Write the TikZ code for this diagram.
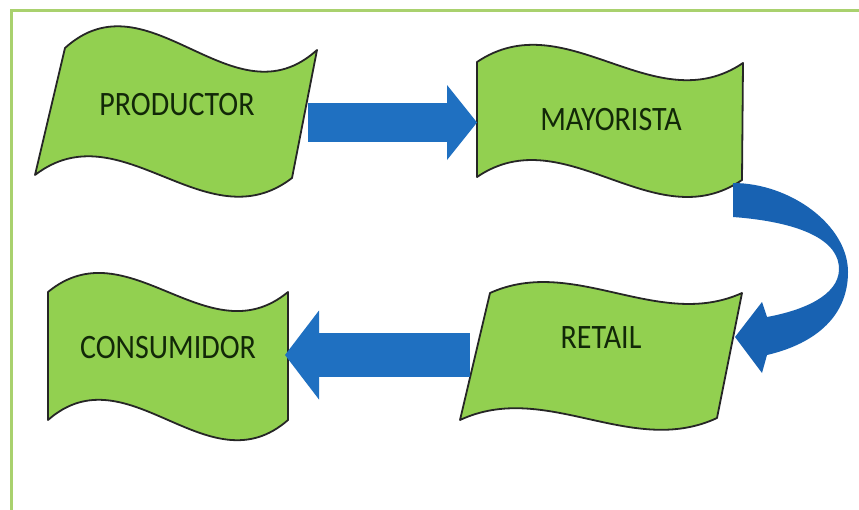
\documentclass[tikz,border=0pt]{standalone}
\usepackage{fontspec}
\setmainfont{Carlito}
\usetikzlibrary{arrows.meta}
\definecolor{wavegreen}{RGB}{146,208,80}
\definecolor{arrowblue}{RGB}{31,112,193}
\definecolor{curveblue}{RGB}{24,98,178}
\definecolor{framegreen}{RGB}{169,209,110}
\definecolor{txtcol}{RGB}{18,40,8}
\newcommand{\tallword}[1]{\scalebox{1}[1.14]{#1}}
\begin{document}
\begin{tikzpicture}[x=1pt,y=-1pt,
  wave/.style={fill=wavegreen,draw=black!85,line width=1.8pt,line join=round},
  nodetext/.style={font=\fontsize{30}{36}\selectfont,text=txtcol,inner sep=0pt},
  blockarrow/.style={draw=arrowblue,line cap=butt}]
\useasboundingbox (0,0) rectangle (859,509);
\fill[white] (0,0) rectangle (859,509);
\draw[framegreen,line width=3pt] (11,520) -- (11,10) -- (870,10);

% wave shapes
\draw[wave] (65,48) .. controls (149,-28) and (233,126) .. (317,50)
  -- (292,178) .. controls (206,244) and (121,109) .. (35,175) -- cycle;
\draw[wave] (477,62) .. controls (566,2) and (654,123) .. (743,63)
  -- (742,180) .. controls (654,240) and (565,117) .. (477,177) -- cycle;
\draw[wave] (48,292) .. controls (128,226) and (208,358) .. (288,292)
  -- (288,420) .. controls (208,490) and (128,350) .. (48,420) -- cycle;
\draw[wave] (490,293) .. controls (574,255) and (658,331) .. (742,293)
  -- (717,418) .. controls (631,458) and (546,380) .. (460,420) -- cycle;

% labels
\node[nodetext] (prod) at (177,105) {\tallword{PRODUCTOR}};
\node[nodetext] (may) at (611,120) {\tallword{MAYORISTA}};
\node[nodetext] (ret) at (601,338) {\tallword{RETAIL}};
\node[nodetext] (cons) at (168,348) {\tallword{CONSUMIDOR}};

% connector end points
\coordinate (prodR) at (308,122.5);
\coordinate (mayL) at (477,122.5);
\coordinate (retL) at (470,355);
\coordinate (consR) at (285,355);

% straight block arrows
\draw[blockarrow,line width=39pt,-{Triangle[length=30pt,width=75pt,line width=0pt]}] (prodR) -- (mayL);
\draw[blockarrow,line width=44pt,-{Triangle[length=34pt,width=89pt,line width=0pt]}] (retL) -- (consR);

% curved block arrow
\fill[curveblue] (733,183) .. controls (790,183) and (848,225) .. (848,272)
  .. controls (848,320) and (810,345) .. (767,355)
  -- (762,373) -- (735,337) -- (762,302) -- (767,317)
  .. controls (805,310) and (838,295) .. (839,270)
  .. controls (840,240) and (800,222) .. (733,217) -- cycle;
\end{tikzpicture}
\end{document}
